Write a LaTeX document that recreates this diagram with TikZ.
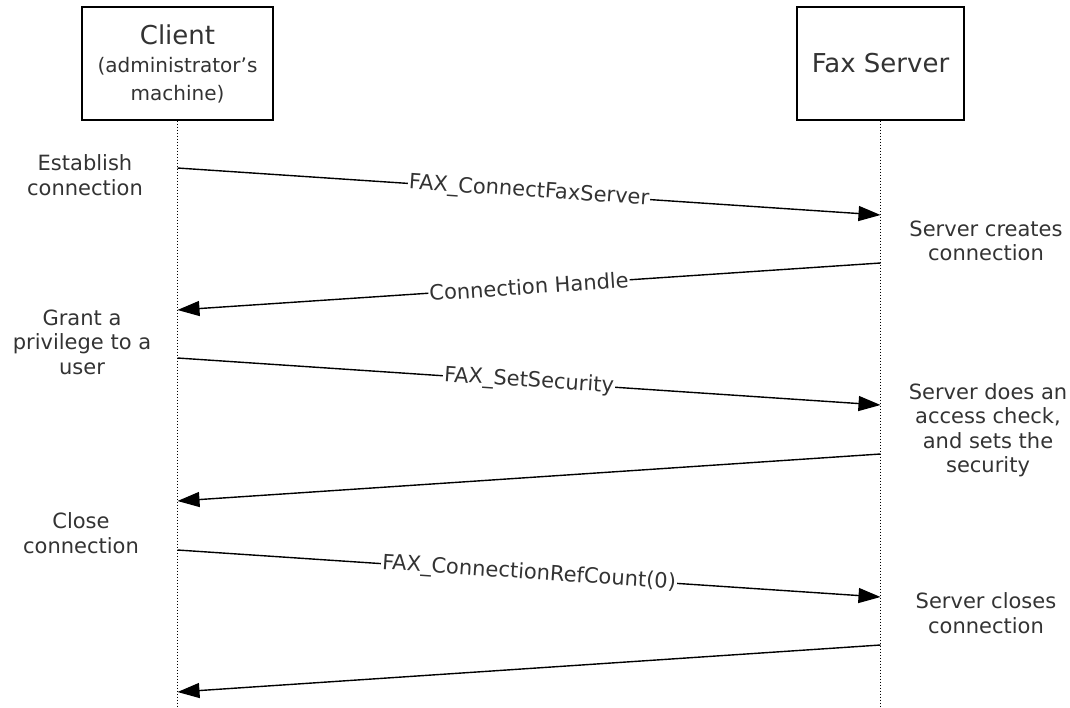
\documentclass[tikz,border=0pt]{standalone}
\usepackage{fontspec}
\setmainfont{DejaVu Sans}
\usetikzlibrary{arrows.meta}
\definecolor{txt}{HTML}{333333}
\begin{document}
\begin{tikzpicture}[x=1pt,y=-1pt,
  actor/.style={draw, line width=1.3pt, minimum width=191pt, minimum height=113pt, align=center, text=txt, inner sep=0pt},
  lifeline/.style={dash pattern=on 1.5pt off 1.5pt, line width=1pt},
  msg/.style={line width=1.4pt, -{Triangle[length=22pt,width=15pt]}},
  msglabel/.style={sloped, fill=white, inner sep=1pt, text=txt, font=\fontsize{21}{24}\selectfont},
  note/.style={align=center, text=txt, font=\fontsize{21}{24.5}\selectfont, inner sep=0pt}]
\useasboundingbox (0,0) rectangle (1070,707);

\node[actor, font=\fontsize{20}{28}\selectfont] (client) at (177.5,63.5)
  {{\fontsize{26}{28}\selectfont Client}\\(administrator's\\machine)};
\node[actor, minimum width=167pt] (server) at (880.5,63.5)
  {\fontsize{26}{30}\selectfont Fax Server};

\coordinate (cbot) at (177.5,707);
\coordinate (sbot) at (880.5,707);
\draw[lifeline] (client.south) -- (cbot);
\draw[lifeline] (server.south) -- (sbot);

\coordinate (c1) at (177.5,168); \coordinate (s1) at (880.5,215);
\coordinate (s2) at (880.5,263); \coordinate (c2) at (177.5,310);
\coordinate (c3) at (177.5,358); \coordinate (s3) at (880.5,405);
\coordinate (s4) at (880.5,454); \coordinate (c4) at (177.5,501);
\coordinate (c5) at (177.5,550); \coordinate (s5) at (880.5,597);
\coordinate (s6) at (880.5,645); \coordinate (c6) at (177.5,692);

\draw[msg] (c1) -- node[msglabel] (m1) {FAX\_ConnectFaxServer} (s1);
\draw[msg] (s2) -- node[msglabel] (m2) {Connection Handle} (c2);
\draw[msg] (c3) -- node[msglabel] (m3) {FAX\_SetSecurity} (s3);
\draw[msg] (s4) -- (c4);
\draw[msg] (c5) -- node[msglabel] (m5) {FAX\_ConnectionRefCount(0)} (s5);
\draw[msg] (s6) -- (c6);

\node[note] (n1) at (85,175) {Establish\\connection};
\node[note] (n2) at (986,241) {Server creates\\connection};
\node[note] (n3) at (82,342) {Grant a\\privilege to a\\user};
\node[note] (n4) at (988,430) {Server does an\\access check,\\and sets the\\security};
\node[note] (n5) at (81,533) {Close\\connection};
\node[note] (n6) at (986,613) {Server closes\\connection};
\end{tikzpicture}
\end{document}
